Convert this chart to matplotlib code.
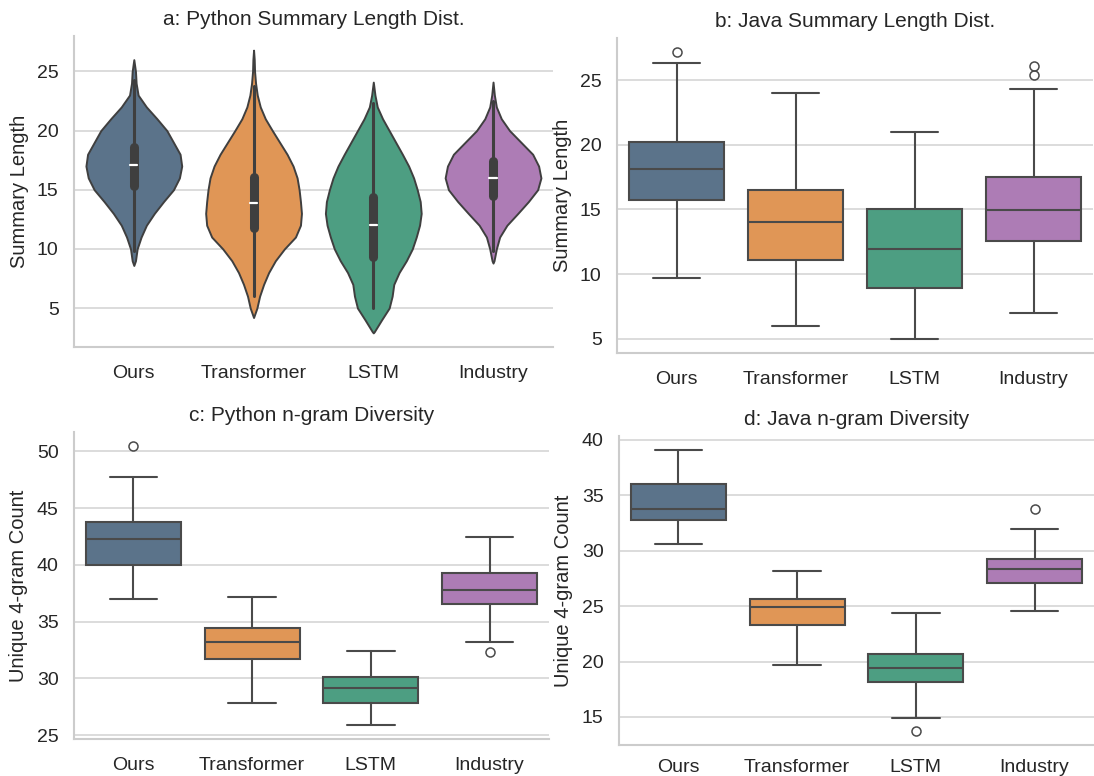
import numpy as np
import matplotlib
matplotlib.use("Agg")
import matplotlib.pyplot as plt
import seaborn as sns

models = ["Ours", "Transformer", "LSTM", "Industry"]
colors = ["#5b738a", "#e09656", "#4d9e82", "#ad7cb5"]

# a: python summary length, density profile (length -> relative width)
py_len_y = {
    "Ours": [8.6, 9, 10, 11, 12, 13, 14, 15, 16, 17, 18, 19, 20, 21, 22, 23, 24, 25, 26.0],
    "Transformer": [4.2, 5, 6, 7, 8, 9, 10, 11, 12, 13, 14, 15, 16, 17, 18, 19, 20, 21, 22, 23, 24, 25, 26, 26.8],
    "LSTM": [2.9, 3, 4, 5, 6, 7, 8, 9, 10, 11, 12, 13, 14, 15, 16, 17, 18, 19, 20, 21, 22, 23, 24.1],
    "Industry": [8.8, 9, 10, 11, 12, 13, 14, 15, 16, 17, 18, 19, 20, 21, 22, 23, 24.1],
}
py_len_density = {
    "Ours": [0, 5, 10, 22, 38, 62, 90, 120, 138, 145, 140, 120, 100, 70, 38, 13, 7, 5, 0],
    "Transformer": [0, 10, 18, 30, 45, 65, 92, 125, 140, 143, 140, 136, 130, 118, 100, 78, 56, 35, 20, 11, 6, 3, 2, 0],
    "LSTM": [0, 3, 25, 48, 57, 62, 78, 100, 118, 130, 140, 145, 142, 133, 122, 107, 88, 68, 48, 28, 12, 5, 0],
    "Industry": [0, 3, 10, 20, 42, 75, 107, 135, 145, 138, 120, 85, 50, 25, 10, 4, 0],
}
# inner box: whisker low, q1, median, q3, whisker high
py_len_box = {
    "Ours": [9.8, 15.3, 17.05, 18.6, 24.3],
    "Transformer": [6.0, 11.8, 13.9, 16.1, 23.8],
    "LSTM": [5.0, 9.3, 12.0, 14.35, 22.3],
    "Industry": [9.8, 14.5, 15.98, 17.45, 22.5],
}

# b: java summary length
java_len = {
    "Ours": dict(whislo=9.7, q1=15.7, med=18.1, q3=20.2, whishi=26.35, fliers=[27.15]),
    "Transformer": dict(whislo=6.0, q1=11.1, med=14.05, q3=16.5, whishi=24.0, fliers=[]),
    "LSTM": dict(whislo=5.0, q1=8.95, med=11.95, q3=15.0, whishi=21.0, fliers=[]),
    "Industry": dict(whislo=7.0, q1=12.55, med=14.95, q3=17.5, whishi=24.3, fliers=[25.4, 26.1]),
}

# c: python unique 4-gram count
py_ngram = {
    "Ours": dict(whislo=36.95, q1=40.0, med=42.3, q3=43.75, whishi=47.75, fliers=[50.47]),
    "Transformer": dict(whislo=27.78, q1=31.73, med=33.19, q3=34.44, whishi=37.13, fliers=[]),
    "LSTM": dict(whislo=25.88, q1=27.81, med=29.12, q3=30.09, whishi=32.43, fliers=[]),
    "Industry": dict(whislo=33.2, q1=36.58, med=37.8, q3=39.3, whishi=42.46, fliers=[32.35]),
}

# d: java unique 4-gram count
java_ngram = {
    "Ours": dict(whislo=30.63, q1=32.78, med=33.74, q3=35.99, whishi=39.05, fliers=[]),
    "Transformer": dict(whislo=19.7, q1=23.26, med=24.94, q3=25.66, whishi=28.14, fliers=[]),
    "LSTM": dict(whislo=14.94, q1=18.14, med=19.43, q3=20.66, whishi=24.4, fliers=[13.74]),
    "Industry": dict(whislo=24.55, q1=27.09, med=28.35, q3=29.22, whishi=32.0, fliers=[33.77]),
}

sns.set_theme(style="whitegrid")
plt.rcParams["font.family"] = ["Liberation Sans", "DejaVu Sans"]
plt.rcParams["axes.edgecolor"] = "#cccccc"
plt.rcParams["grid.color"] = "#d6d6d6"
text_c = "#262626"

fig = plt.figure(figsize=(10.94, 7.76), dpi=100)
ax_a = fig.add_axes([0.0676, 0.5528, 0.4378, 0.4008])
ax_b = fig.add_axes([0.5640, 0.5451, 0.4351, 0.4060])
ax_c = fig.add_axes([0.0676, 0.0477, 0.4342, 0.3956])
ax_d = fig.add_axes([0.5658, 0.0400, 0.4342, 0.3976])

line_c = "#3f3f3f"
box_line = "#4a4a4a"
pos = np.arange(len(models))

# violins
stats = []
for m in models:
    ys = np.array(py_len_y[m], dtype=float)
    vals = np.array(py_len_density[m], dtype=float)
    stats.append(dict(coords=ys, vals=vals, mean=0, median=py_len_box[m][2],
                      min=ys.min(), max=ys.max()))
parts = ax_a.violin(stats, positions=pos, widths=0.8, showmeans=False,
                    showextrema=False, showmedians=False)
for body, c in zip(parts["bodies"], colors):
    body.set_facecolor(c)
    body.set_edgecolor(line_c)
    body.set_linewidth(1.4)
    body.set_joinstyle("round")
    body.set_alpha(1)
for p, m in zip(pos, models):
    lo, q1, med, q3, hi = py_len_box[m]
    ax_a.plot([p, p], [lo, hi], color=line_c, lw=2.2, zorder=3)
    ax_a.plot([p, p], [q1, q3], color=line_c, lw=6.5, solid_capstyle="round", zorder=3)
    ax_a.plot([p - 0.03, p + 0.03], [med, med], color="white", lw=1.6, zorder=4)


def draw_boxes(ax, data):
    bstats = [dict(data[m]) for m in models]
    bp = ax.bxp(bstats, positions=pos, widths=0.8, patch_artist=True,
                showfliers=True, capwidths=0.4,
                boxprops=dict(edgecolor=box_line, linewidth=1.5),
                whiskerprops=dict(color=box_line, linewidth=1.5),
                capprops=dict(color=box_line, linewidth=1.5),
                medianprops=dict(color=box_line, linewidth=1.5),
                flierprops=dict(marker="o", markerfacecolor="none",
                                markeredgecolor=box_line, markersize=6.5,
                                markeredgewidth=1.1))
    for patch, c in zip(bp["boxes"], colors):
        patch.set_facecolor(c)


draw_boxes(ax_b, java_len)
draw_boxes(ax_c, py_ngram)
draw_boxes(ax_d, java_ngram)

titles = ["a: Python Summary Length Dist.", "b: Java Summary Length Dist.",
          "c: Python n-gram Diversity", "d: Java n-gram Diversity"]
ylabels = ["Summary Length", "Summary Length", "Unique 4-gram Count", "Unique 4-gram Count"]

for ax, t, yl in zip([ax_a, ax_b, ax_c, ax_d], titles, ylabels):
    ax.set_xlim(-0.5, 3.5)
    ax.set_xticks(pos)
    ax.set_xticklabels(models)
    ax.set_title(t, fontsize=15, color=text_c, pad=8)
    ax.set_ylabel(yl, fontsize=14.5, color=text_c, labelpad=6)
    ax.tick_params(axis="both", length=0, labelsize=14, labelcolor=text_c)
    ax.tick_params(axis="y", pad=11)
    ax.tick_params(axis="x", pad=13)
    ax.grid(axis="x", visible=False)
    ax.grid(axis="y", linewidth=1.2)
    for s in ["top", "right"]:
        ax.spines[s].set_visible(False)
    for s in ["left", "bottom"]:
        ax.spines[s].set_linewidth(1.5)

# bottom-right labels sit close to the figure edge
ax_d.tick_params(axis="x", pad=10)

ax_a.set_yticks([5, 10, 15, 20, 25])
ax_b.set_yticks([5, 10, 15, 20, 25])
ax_c.set_yticks([25, 30, 35, 40, 45, 50])
ax_d.set_yticks([15, 20, 25, 30, 35, 40])

fig.savefig("out.png", dpi=100)
